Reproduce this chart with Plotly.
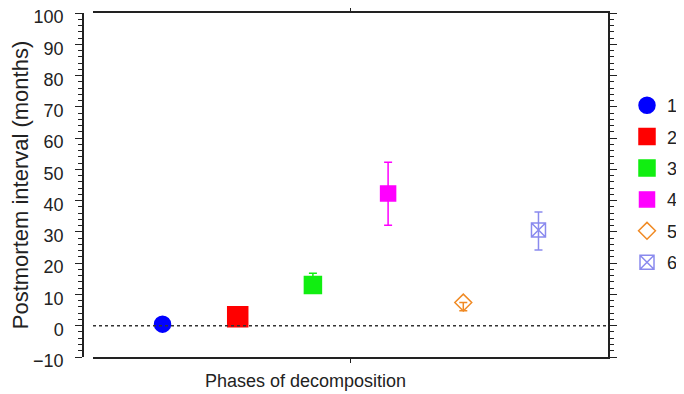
import plotly.graph_objects as go

phases = ["1", "2", "3", "4", "5", "6"]
category = ["Phases of decomposition"]
means = [0.5, 2.9, 13.0, 42.3, 7.4, 30.6]
err_plus = [0.0, 0.0, 3.8, 10.0, 0.0, 5.8]
err_minus = [0.0, 0.0, 0.0, 10.2, 2.6, 6.4]
colors = ["#0000ff", "#ff0000", "#11ee11", "#ff00ff", "#f08a24", "#8a8aee"]
symbols = ["circle", "square", "square", "square", "diamond-open", "square-x-open"]
sizes = [16, 20, 17, 15, 13, 14]
y_tick_vals = [-10, 0, 10, 20, 30, 40, 50, 60, 70, 80, 90, 100]

# page has an 8px body margin; figure coordinates are page coordinates minus 8
W, H = 676, 386
ml, mr, mt, mb = 75, 76, 5, 37
pw = W - ml - mr
ph_ = H - mt - mb
fig = go.Figure()
for i, ph in enumerate(phases):
    fig.add_trace(go.Scatter(
        x=category, y=[means[i]], name=ph, mode="markers",
        offsetgroup=ph, legendgroup=ph,
        marker=dict(symbol=symbols[i], color=colors[i], size=sizes[i],
                    line=dict(color=colors[i], width=1.5)),
        error_y=dict(type="data", symmetric=False, array=[err_plus[i]],
                     arrayminus=[err_minus[i]], color=colors[i],
                     thickness=1.5, width=4, visible=(err_plus[i] + err_minus[i]) > 0),
    ))

axis_col = "#222222"
fig.update_layout(
    width=W, height=H, margin=dict(l=ml, r=mr, t=mt, b=mb, autoexpand=False),
    paper_bgcolor="white", plot_bgcolor="white",
    scattermode="group", scattergap=0.124,
    font=dict(family="Liberation Sans, Arial", size=18, color="#222"),
    xaxis=dict(domain=[10 / pw, 1], showline=True, mirror="allticks", linecolor=axis_col,
               linewidth=1.5, ticks="outside", ticklen=4, tickcolor=axis_col,
               showticklabels=False, showgrid=False, zeroline=False, automargin=False),
    yaxis=dict(range=[-10, 100], anchor="free", position=0, showline=True,
               linecolor=axis_col, linewidth=1.5, ticks="outside", ticklen=7,
               tickcolor=axis_col, tickvals=y_tick_vals, showgrid=False, zeroline=False,
               minor=dict(dtick=2, ticks="outside", ticklen=4, tickcolor=axis_col),
               ticklabelstandoff=8, ticklabelshift=4, automargin=False,
               ticklabeloverflow="allow",
               title=dict(text="Postmortem interval (months)", standoff=8),
               tickfont=dict(size=18)),
    yaxis2=dict(range=[-10, 100], overlaying="y", side="right", anchor="x", showline=True,
                linecolor=axis_col, linewidth=1.5, ticks="outside", ticklen=7,
                tickcolor=axis_col, tickvals=y_tick_vals, showticklabels=False,
                showgrid=False, zeroline=False, automargin=False,
                minor=dict(dtick=2, ticks="outside", ticklen=4, tickcolor=axis_col)),
    legend=dict(x=(619 - ml) / pw, xanchor="left", y=(349 - 79) / ph_, yanchor="top",
                font=dict(size=18), tracegroupgap=5, itemsizing="trace",
                bgcolor="rgba(0,0,0,0)"),
    showlegend=True,
)
fig.add_trace(go.Scatter(x=category, y=[None], yaxis="y2", showlegend=False, hoverinfo="skip"))
fig.add_shape(type="line", xref="x domain", x0=0, x1=1, yref="y", y0=0, y1=0,
              line=dict(color="#333", width=1.5, dash="dot"))
fig.add_annotation(text="Phases of decomposition", xref="paper", x=(297 - ml) / pw,
                   yref="paper", y=-24 / ph_, yanchor="middle", showarrow=False,
                   font=dict(size=18))
fig.write_html("out.html")
